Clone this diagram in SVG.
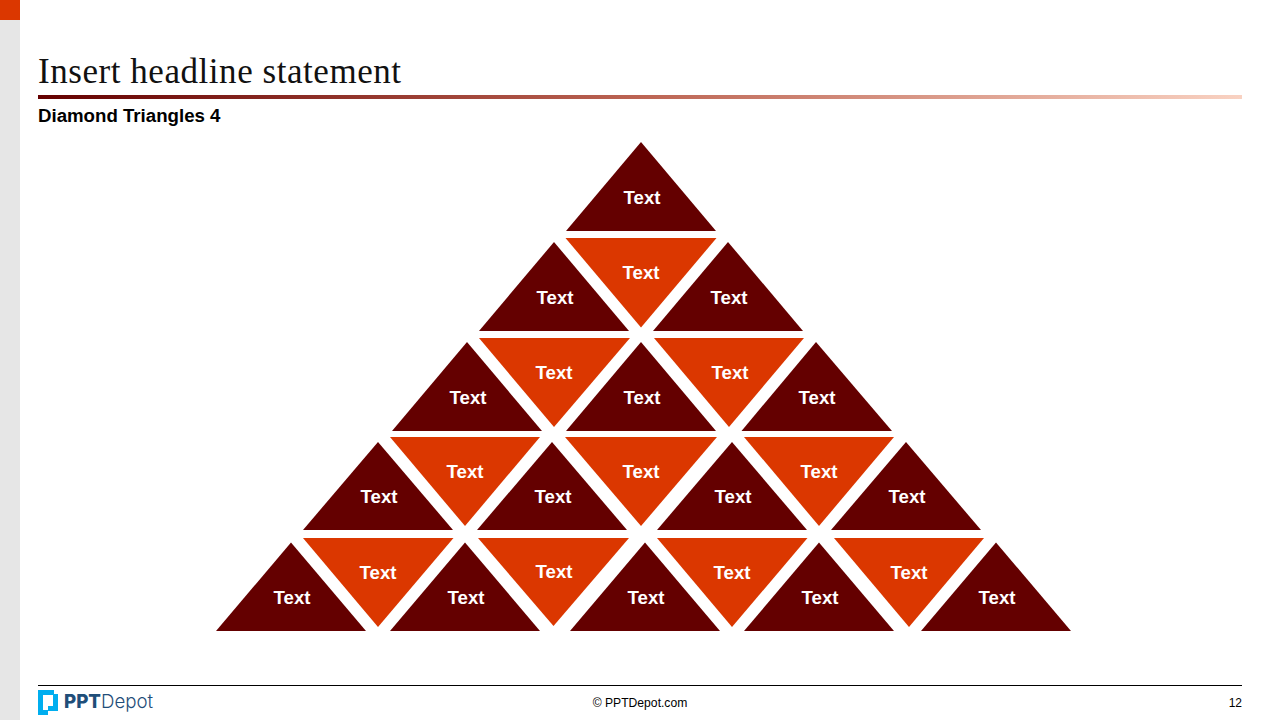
<svg xmlns="http://www.w3.org/2000/svg" width="1280" height="720" viewBox="0 0 1280 720">
<defs>
<linearGradient id="rule" x1="0" y1="0" x2="1" y2="0">
<stop offset="0" stop-color="#640000"/>
<stop offset="0.5" stop-color="#bc6453"/>
<stop offset="1" stop-color="#f9d2c2"/>
</linearGradient>
</defs>
<style>
.up{fill:#640000}
.down{fill:#db3700}
.t{font-family:"Liberation Sans",Arial,sans-serif;font-size:18.67px;font-weight:700;fill:#fff;text-anchor:middle}
</style>
<rect width="1280" height="720" fill="#fff"/>
<rect id="sidebar" x="0" y="0" width="20" height="720" fill="#e6e6e6"/>
<rect id="sidebar-accent" x="0" y="0" width="20" height="20" fill="#db3700"/>
<text id="title" x="38" y="83" font-family="'Liberation Serif',Georgia,serif" font-size="35" letter-spacing="0.55" fill="#111">Insert headline statement</text>
<rect id="title-rule" x="38" y="95" width="1204" height="4" fill="url(#rule)"/>
<text id="subtitle" x="38" y="122" font-family="'Liberation Sans',Arial,sans-serif" font-size="18.67" font-weight="700" fill="#000">Diamond Triangles 4</text>

<g id="r1u1"><polygon class="up" points="641,142 716,231 566,231"/><text class="t" x="642" y="204">Text</text></g>

<g id="r2d1"><polygon class="down" points="565.5,238 716.5,238 641,327.5"/><text class="t" x="641" y="279">Text</text></g>
<g id="r2u1"><polygon class="up" points="554,242 629,331 479,331"/><text class="t" x="555" y="304">Text</text></g>
<g id="r2u2"><polygon class="up" points="728,242 803,331 653,331"/><text class="t" x="729" y="304">Text</text></g>

<g id="r3u1"><polygon class="up" points="467,342 542,431 392,431"/><text class="t" x="468" y="404">Text</text></g>
<g id="r3d1"><polygon class="down" points="479,338 630,338 554,427"/><text class="t" x="554" y="379">Text</text></g>
<g id="r3u2"><polygon class="up" points="641,342 716,431 566,431"/><text class="t" x="642" y="404">Text</text></g>
<g id="r3d2"><polygon class="down" points="654,338 804,338 729,427"/><text class="t" x="730" y="379">Text</text></g>
<g id="r3u3"><polygon class="up" points="816,342 892,431 741.500,431"/><text class="t" x="817" y="404">Text</text></g>

<g id="r4u1"><polygon class="up" points="378,442 453,530 303,530"/><text class="t" x="379" y="503">Text</text></g>
<g id="r4d1"><polygon class="down" points="390,437 540,437 465,526"/><text class="t" x="465" y="478">Text</text></g>
<g id="r4u2"><polygon class="up" points="552,442 627,530 477,530"/><text class="t" x="553" y="503">Text</text></g>
<g id="r4d2"><polygon class="down" points="565,437 717,437 641,526"/><text class="t" x="641" y="478">Text</text></g>
<g id="r4u3"><polygon class="up" points="732,442 807,530 657,530"/><text class="t" x="733" y="503">Text</text></g>
<g id="r4d3"><polygon class="down" points="744,437 894,437 819,526"/><text class="t" x="819" y="478">Text</text></g>
<g id="r4u4"><polygon class="up" points="906,442 981,530 831,530"/><text class="t" x="907" y="503">Text</text></g>

<g id="r5u1"><polygon class="up" points="291,542.500 366,631 216,631"/><text class="t" x="292" y="604">Text</text></g>
<g id="r5d1"><polygon class="down" points="303,538 453.500,538 378,627"/><text class="t" x="378" y="579">Text</text></g>
<g id="r5u2"><polygon class="up" points="465,542.500 540,631 390,631"/><text class="t" x="466" y="604">Text</text></g>
<g id="r5d2"><polygon class="down" points="478,538 629,538 553.500,626"/><text class="t" x="554" y="578">Text</text></g>
<g id="r5u3"><polygon class="up" points="645,542.500 720,631 570,631"/><text class="t" x="646" y="604">Text</text></g>
<g id="r5d3"><polygon class="down" points="657,538 807.500,538 732,627"/><text class="t" x="732" y="579">Text</text></g>
<g id="r5u4"><polygon class="up" points="819,542.500 894,631 744,631"/><text class="t" x="820" y="604">Text</text></g>
<g id="r5d4"><polygon class="down" points="834,538 984,538 909,627"/><text class="t" x="909" y="579">Text</text></g>
<g id="r5u5"><polygon class="up" points="996,542.500 1071,631 921,631"/><text class="t" x="997" y="604">Text</text></g>

<line id="footer-rule" x1="38" y1="685.500" x2="1242" y2="685.500" stroke="#000" stroke-width="1"/>
<g id="logo">
<path d="M38 690H54V695H43V710H48V706H53V694H58V711H48V715H38Z" fill="#00aeef"/>
<text x="64" y="708" font-family="Inter,'Open Sans',sans-serif" font-size="18.7" font-weight="800" fill="#1f4e79">PPT<tspan font-weight="300">Depot</tspan></text>
</g>
<text id="copyright" x="640" y="707" text-anchor="middle" font-family="'Liberation Sans',Arial,sans-serif" font-size="12.15" fill="#000">© PPTDepot.com</text>
<text id="page" x="1242" y="707" text-anchor="end" font-family="'Liberation Sans',Arial,sans-serif" font-size="12" fill="#000">12</text>
</svg>
